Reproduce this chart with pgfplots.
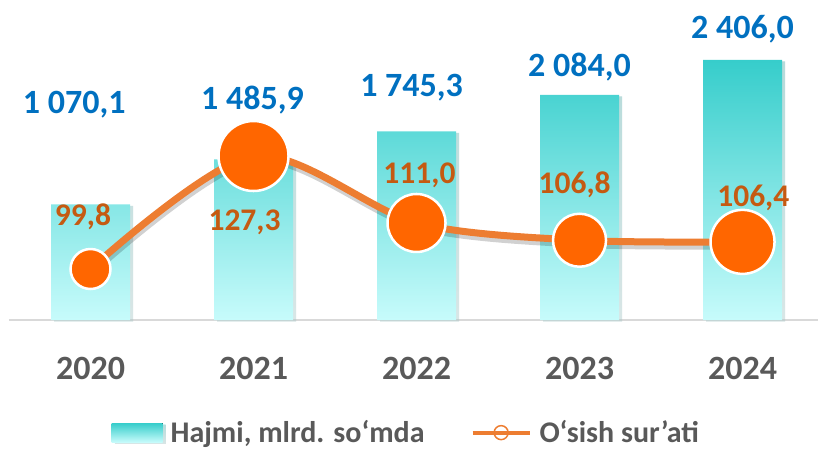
\documentclass[border=0pt]{standalone}
\usepackage{pgfplots}
\pgfplotsset{compat=1.18}
\usepackage{fontspec}
\setmainfont{Carlito}
\usetikzlibrary{shadows}
\definecolor{barTop}{RGB}{54,205,203}
\definecolor{barBot}{RGB}{199,251,251}
\definecolor{lineOr}{RGB}{237,125,49}
\definecolor{markOr}{RGB}{255,102,0}
\definecolor{lblBlue}{RGB}{0,112,192}
\definecolor{lblOr}{RGB}{197,90,17}
\definecolor{txtGray}{RGB}{89,89,89}
\definecolor{axGray}{RGB}{217,217,217}
\begin{document}
\begin{tikzpicture}[x=1pt,y=1pt]
\useasboundingbox (0,0) rectangle (818,450);
\begin{axis}[
  at={(9pt,130pt)}, anchor=south west,
  scale only axis, width=809pt, height=320pt,
  xmin=-0.5, xmax=4.463, ymin=0, ymax=2961,
  axis y line=none, axis x line*=bottom,
  x axis line style={draw=axGray, line width=2.5pt, -},
  xtick={0,1,2,3,4}, xticklabels={2020,2021,2022,2023,2024},
  major tick length=0pt,
  xticklabel style={anchor=center, yshift=-48pt, font=\fontsize{34}{40}\selectfont\bfseries, text=txtGray},
  clip=false,
  legend style={draw=none, fill=none, at={(0.491,-0.352)}, anchor=center,
    legend columns=2, font=\fontsize{30}{34}\selectfont\bfseries, text=txtGray,
    /tikz/every odd column/.append style={column sep=6pt},
    /tikz/every even column/.append style={column sep=44pt},
    inner sep=0pt},
]
\addplot[ybar, bar width=79pt, draw=none, top color=barTop, bottom color=barBot,
  drop shadow={shadow xshift=3pt, shadow yshift=-1.5pt, opacity=0.25},
  legend image code/.code={\fill[top color=barTop,bottom color=barBot] (0pt,-9.5pt) rectangle (51pt,9.5pt);}]
  coordinates {(0,1070.1) (1,1485.9) (2,1745.3) (3,2084.0) (4,2406.0)};
\addlegendentry{Hajmi, mlrd. so‘mda}
\addlegendimage{legend image code/.code={\draw[lineOr, line width=4pt] (0pt,0pt) -- (57pt,0pt); \draw[lineOr, line width=1.5pt] (28.5pt,0pt) circle (7pt);}}
\addlegendentry{O‘sish sur’ati}
\begin{scope}[every node/.style={font=\fontsize{34}{40}\selectfont\bfseries, text=lblBlue}]
\node at (axis cs:-0.10,1990) {1 070,1};
\node at (axis cs:0.994,2036) {1 485,9};
\node at (axis cs:1.97,2147) {1 745,3};
\node at (axis cs:3,2337) {2 084,0};
\node at (axis cs:4,2693) {2 406,0};
\end{scope}
\begin{scope}[every node/.style={font=\fontsize{31.5}{36}\selectfont\bfseries, text=lblOr}]
\node at (axis cs:-0.046,956) {99,8};
\node at (axis cs:0.945,902) {127,3};
\node at (axis cs:2.018,1342) {111,0};
\node at (axis cs:2.97,1249) {106,8};
\node at (axis cs:4.066,1129) {106,4};
\end{scope}
\end{axis}
\begin{axis}[
  at={(9pt,130pt)}, anchor=south west,
  scale only axis, width=809pt, height=320pt,
  xmin=-0.5, xmax=4.463, ymin=87.39, ymax=165.27,
  hide axis, clip=false,
]
\addplot[smooth, draw=black, opacity=0.18, line width=7pt, yshift=-4pt, xshift=1pt]
  coordinates {(0,99.8) (1,127.3) (2,111.0) (3,106.8) (4,106.4)};
\addplot[smooth, draw=lineOr, line width=7pt]
  coordinates {(0,99.8) (1,127.3) (2,111.0) (3,106.8) (4,106.4)};
\pgfplotsset{every axis plot/.append style={only marks, mark=*, mark options={fill=markOr, draw=white, line width=2.5pt}}}
\addplot[mark size=20pt] coordinates {(0,99.8)};
\addplot[mark size=35pt] coordinates {(1,127.3)};
\addplot[mark size=29pt] coordinates {(2,111.0)};
\addplot[mark size=26.5pt] coordinates {(3,106.8)};
\addplot[mark size=32pt] coordinates {(4,106.4)};
\end{axis}
\end{tikzpicture}
\end{document}
